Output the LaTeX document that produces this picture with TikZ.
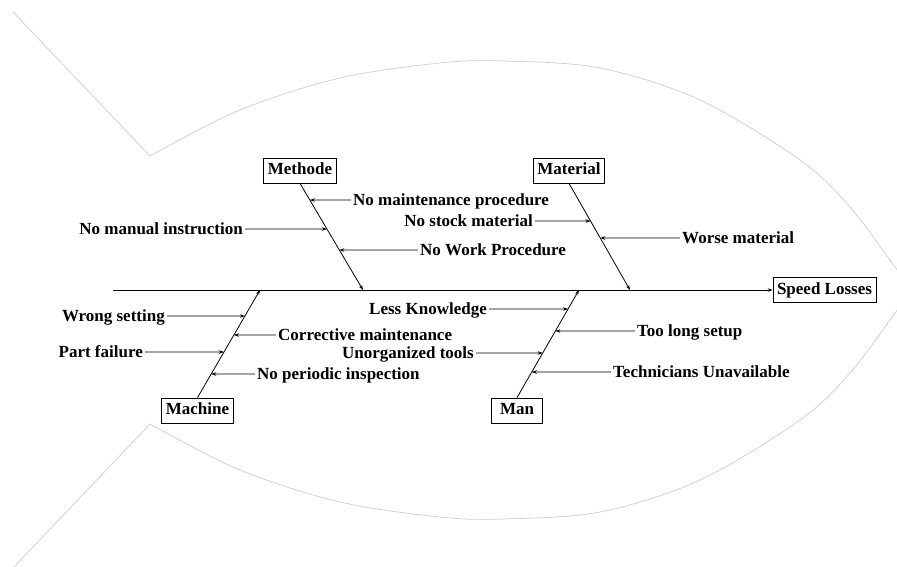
\documentclass[tikz,border=0pt]{standalone}
\usepackage{fontspec}
\setmainfont{Liberation Serif}
\usetikzlibrary{arrows.meta}

\tikzset{
  catbox/.style={draw, line width=0.8pt, font=\bfseries\fontsize{17}{20}\selectfont,
    inner xsep=4pt, inner ysep=4.5pt, text height=12pt, text depth=4pt, minimum width=51pt},
  cause/.style={font=\bfseries\fontsize{17}{20}\selectfont, inner sep=2pt,
    text height=11.5pt, text depth=0pt},
  bone/.style={line width=0.8pt, -{Stealth[length=5pt,width=3.5pt]}},
  fish/.style={gray!40, line width=0.7pt}
}

\begin{document}
\begin{tikzpicture}[x=1pt,y=-1pt]
  \useasboundingbox (0,0) rectangle (897,567);
  \clip (0,0) rectangle (897,567);
  % fish outline, upper and lower half
  \foreach \s in {1,-1}
   {
    \begin{scope}[shift={(0,290)}, yscale=\s]
      \draw[fish] (13,-278) -- plot[smooth, tension=0.55] coordinates
        {(150,-134) (240,-180) (340,-212) (440,-227) (503,-229) (600,-222)
         (700,-190) (800,-130) (850,-83) (895,-23) (912,0)};
    \end{scope}
   }
  % head and spine
  \node[catbox] (speed) at (824.5,290) {Speed Losses};
  \coordinate (tail) at (113,290);
  \draw[bone] (tail) -- (speed);
  % categories
  \node[catbox] (methode) at (300,170.5) {Methode};
  \node[catbox] (material) at (569,170.5) {Material};
  \node[catbox] (machine) at (197.5,410.5) {Machine};
  \node[catbox] (man) at (517,410.5) {Man};
  \coordinate (methodeRoot) at (methode.south);
  \coordinate (materialRoot) at (material.south);
  \coordinate (machineRoot) at (machine.north);
  \coordinate (manRoot) at (man.north);
  \coordinate (methodeTip) at (363,290);
  \coordinate (materialTip) at (630,290);
  \coordinate (machineTip) at (260,290);
  \coordinate (manTip) at (579,290);
  \foreach \cat in {methode,material,machine,man}
    \draw[bone] (\cat Root) -- (\cat Tip);
  % causes
  \foreach \name/\cat/\txt/\x/\y/\side in {
      nmp/methode/No maintenance procedure/351/200/west,
      nmi/methode/No manual instruction/245/229/east,
      nwp/methode/No Work Procedure/418/250/west,
      nsm/material/No stock material/535/221/east,
      wm/material/Worse material/680/238/west,
      ws/machine/Wrong setting/167/316/east,
      cm/machine/Corrective maintenance/276/335/west,
      pf/machine/Part failure/145/352/east,
      npi/machine/No periodic inspection/255/374/west,
      lk/man/Less Knowledge/489/309/east,
      tls/man/Too long setup/635/331/west,
      ut/man/Unorganized tools/476/353/east,
      tu/man/Technicians Unavailable/611/372/west}
   {
    \node[cause, anchor=\side] (\name) at (\x,\y) {\txt};
    \draw[bone] (\name.\side) --
      (intersection of \name.west--\name.east and \cat Root--\cat Tip);
   }
\end{tikzpicture}
\end{document}
